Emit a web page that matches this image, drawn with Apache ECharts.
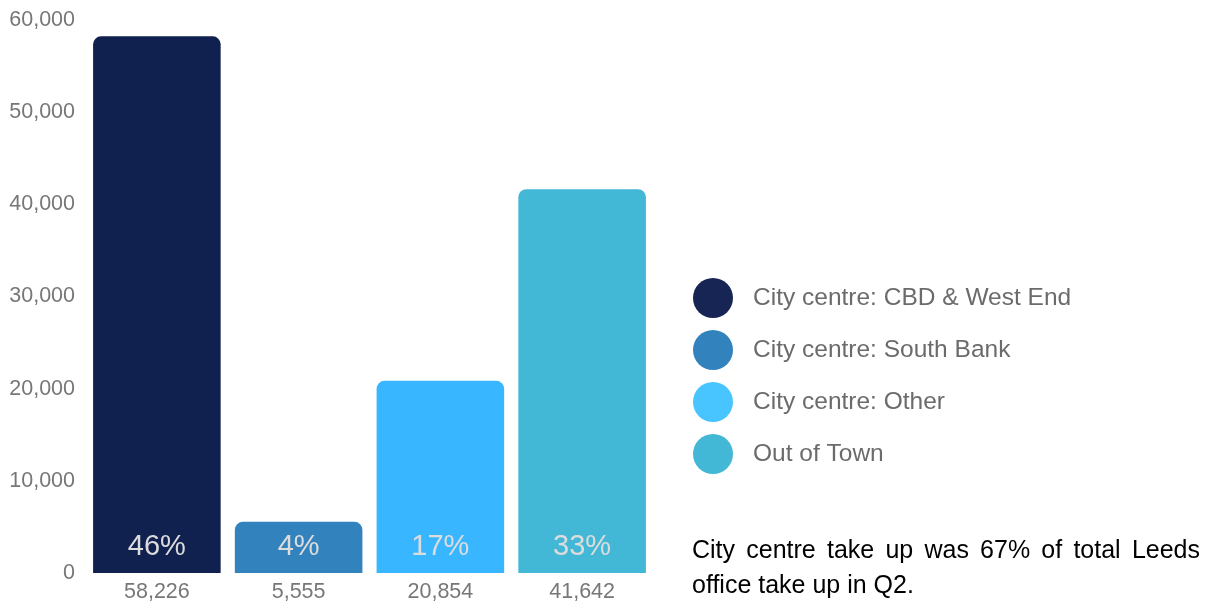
<!DOCTYPE html>
<html>
<head>
<meta charset="utf-8">
<script src="https://cdn.jsdelivr.net/npm/echarts@6/dist/echarts.min.js"></script>
<style>
  html, body { margin: 0; padding: 0; background: #fff; }
  #main { width: 1210px; height: 604px; }
</style>
</head>
<body>
<div id="main"></div>
<script>
var names = ['City centre: CBD & West End', 'City centre: South Bank', 'City centre: Other', 'Out of Town'];
var values = [58226, 5555, 20854, 41642];
var shares = ['46%', '4%', '17%', '33%'];
var barColors = ['#11214f', '#3282bd', '#38b6ff', '#42b8d6'];
var legendColors = ['#162554', '#3282bd', '#48c4ff', '#42b8d6'];
var yTicks = [0, 60000, 10000]; // min, max, interval
var note = ['City centre take up was 67% of total Leeds', 'office take up in Q2.'];

var font = '"Liberation Sans", Arial, sans-serif';
var chart = echarts.init(document.getElementById('main'));

// justify the first note line like the original text box
function justifyLine(text, x0, x1, y, size) {
    var ctx = document.createElement('canvas').getContext('2d');
    ctx.font = size + 'px ' + font;
    var words = text.split(' ');
    var total = 0;
    words.forEach(function (w) { total += ctx.measureText(w).width; });
    var gap = (x1 - x0 - total) / (words.length - 1);
    var x = x0, out = [];
    words.forEach(function (w) {
        out.push({ type: 'text', left: x, top: y,
            style: { text: w, font: size + 'px ' + font, fill: '#000' } });
        x += ctx.measureText(w).width + gap;
    });
    return out;
}

var graphics = justifyLine(note[0], 692, 1200, 539, 25);
graphics.push({ type: 'text', left: 692, top: 574,
    style: { text: note[1], font: '25px ' + font, fill: '#000' } });

var series = names.map(function (n, i) {
    return {
        name: n,
        type: 'bar',
        barGap: '-100%',
        barCategoryGap: '10%',
        data: values.map(function (v, j) { return j === i ? v : '-'; }),
        itemStyle: { color: barColors[i], borderRadius: [8, 8, 0, 0] },
        label: {
            show: true,
            position: 'insideBottom',
            distance: 12,
            formatter: shares[i],
            color: '#dcdcdc',
            fontSize: 29,
            fontFamily: font
        }
    };
});

var option = {
    animation: false,
    textStyle: { fontFamily: font },
    grid: { left: 86, right: 557, top: 20, bottom: 31, containLabel: false },
    legend: {
        orient: 'vertical',
        left: 688,
        top: 273,
        icon: 'circle',
        itemWidth: 40,
        itemHeight: 40,
        itemGap: 12,
        textStyle: { fontSize: 24.5, color: '#6b6b6b', padding: [0, 0, 0, 15], fontFamily: font },
        data: names.map(function (n, i) { return { name: n, itemStyle: { color: legendColors[i] } }; })
    },
    xAxis: {
        type: 'category',
        data: values.map(function (v) { return v.toLocaleString('en-GB'); }),
        axisLine: { show: false },
        axisTick: { show: false },
        axisLabel: { color: '#777', fontSize: 21.5, margin: 8, fontFamily: font }
    },
    yAxis: {
        type: 'value',
        min: yTicks[0],
        max: yTicks[1],
        interval: yTicks[2],
        splitLine: { show: false },
        axisLine: { show: false },
        axisTick: { show: false },
        axisLabel: {
            color: '#777', fontSize: 21.5, margin: 11, fontFamily: font,
            formatter: function (v) { return v.toLocaleString('en-GB'); }
        }
    },
    graphic: graphics,
    series: series
};

chart.setOption(option);
</script>
</body>
</html>
